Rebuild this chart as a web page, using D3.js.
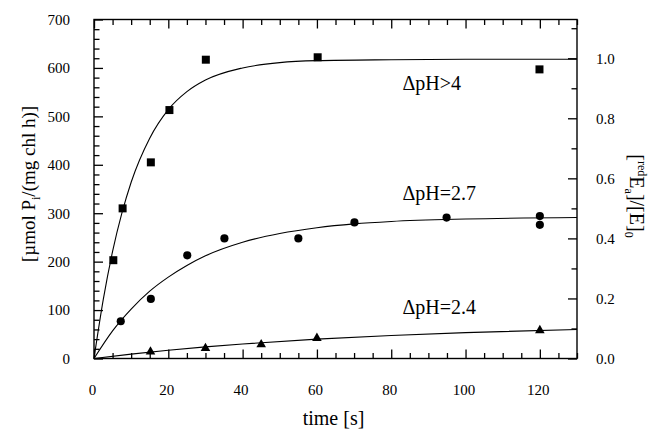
<!DOCTYPE html>
<html><head><meta charset="utf-8">
<script src="https://cdn.jsdelivr.net/npm/d3@7/dist/d3.min.js"></script>
<style>
body{margin:0;background:#fff;}
svg{display:block;}
svg text{font-family:'Liberation Serif','DejaVu Serif','Times New Roman',serif !important;fill:#000;}
</style></head><body>
<svg id="chart" width="658" height="429"></svg>
<script>
// ---- data ----
const sqTime  = [5.2, 7.7, 15.3, 20.3, 30.1, 60.2, 119.9];
const sqValue = [203, 310, 405, 513, 617, 622, 597];

const ciTime  = [7.2, 15.3, 25.1, 35.1, 55.0, 70.1, 94.9, 120, 120];
const ciValue = [77, 123, 213, 248, 248, 281, 291, 294, 276];

const trTime  = [15.2, 30, 45, 60, 120];
const trValue = [14, 21, 29, 42, 58];

// fitted curves as drawn
const fitT4   = [0, 2.5, 5, 7.5, 10, 15, 20, 25, 30, 40, 50, 60, 80, 100, 130];
const fitV4   = [0, 122, 221, 300, 364, 455, 514, 551, 575, 600, 611, 615, 617, 618, 618];
const fitT27  = [0, 5, 10, 15, 20, 25, 30, 40, 50, 60, 70, 80, 100, 130];
const fitV27  = [0, 57, 102, 139, 168, 192, 212, 240, 258, 270, 278, 283, 288, 291];
const fitT24  = [0, 10, 20, 30, 40, 60, 80, 100, 130];
const fitV24  = [0, 9, 17, 24, 30, 40, 47.5, 53.5, 60];

const xTicks      = [0, 20, 40, 60, 80, 100, 120];
const yLeftTicks  = [0, 100, 200, 300, 400, 500, 600, 700];
const yRightTicks = [0.0, 0.2, 0.4, 0.6, 0.8, 1.0];
const labels = [
  {text: "ΔpH>4",   t: 83, v: 555},
  {text: "ΔpH=2.7", t: 83, v: 327},
  {text: "ΔpH=2.4", t: 83, v: 92}
];

// ---- layout ----
const FONT = "'Liberation Serif','DejaVu Serif',serif";
const svg = d3.select("#chart");
const L = 94, R = 577, T = 19.5, B = 358.5;
const x  = d3.scaleLinear().domain([0, 130]).range([L, R]);
const y  = d3.scaleLinear().domain([0, 700]).range([B, T]);
const yR = d3.scaleLinear().domain([0, 700 / 620]).range([B, T]);

const majorLen = 9, minorLen = 5.5;
const axStroke = 1.4;

function tickMarks(g, scale, vals, len, orient) {
  let ax;
  if (orient === "bottom") ax = d3.axisTop(scale);
  else if (orient === "top") ax = d3.axisBottom(scale);
  else if (orient === "left") ax = d3.axisRight(scale);
  else ax = d3.axisLeft(scale);
  ax.tickValues(vals).tickSize(len).tickFormat("").tickSizeOuter(0);
  g.call(ax);
  g.select(".domain").remove();
  g.selectAll(".tick line").attr("stroke", "#000").attr("stroke-width", 1.3);
}

const minorX = d3.range(0, 131, 5).filter(d => d % 20 !== 0);
const minorY = d3.range(0, 701, 20).filter(d => d % 100 !== 0);
const minorR = [0.1, 0.3, 0.5, 0.7, 0.9, 1.1];

tickMarks(svg.append("g").attr("transform", `translate(0,${B})`), x, xTicks, majorLen, "bottom");
tickMarks(svg.append("g").attr("transform", `translate(0,${B})`), x, minorX, minorLen, "bottom");
tickMarks(svg.append("g").attr("transform", `translate(0,${T})`), x, xTicks, majorLen, "top");
tickMarks(svg.append("g").attr("transform", `translate(0,${T})`), x, minorX, minorLen, "top");
tickMarks(svg.append("g").attr("transform", `translate(${L},0)`), y, yLeftTicks, majorLen, "left");
tickMarks(svg.append("g").attr("transform", `translate(${L},0)`), y, minorY, minorLen, "left");
tickMarks(svg.append("g").attr("transform", `translate(${R},0)`), yR, yRightTicks, majorLen, "right");
tickMarks(svg.append("g").attr("transform", `translate(${R},0)`), yR, minorR, minorLen, "right");

// frame
svg.append("rect").attr("x", L).attr("y", T).attr("width", R - L).attr("height", B - T)
  .attr("fill", "none").attr("stroke", "#000").attr("stroke-width", axStroke);

// tick labels via axes (no tick lines)
const gxl = svg.append("g").attr("transform", `translate(-2,${B + 23})`)
  .call(d3.axisBottom(x).tickValues(xTicks).tickSize(0).tickFormat(d3.format("d")));
const gyl = svg.append("g").attr("transform", `translate(${L - 24},0)`)
  .call(d3.axisLeft(y).tickValues(yLeftTicks).tickSize(0).tickFormat(d3.format("d")));
const gyr = svg.append("g").attr("transform", `translate(${R + 19},0)`)
  .call(d3.axisRight(yR).tickValues(yRightTicks).tickSize(0).tickFormat(d3.format(".1f")));
[gxl, gyl, gyr].forEach(g => {
  g.attr("font-family", FONT);
  g.select(".domain").remove();
  g.selectAll("text").attr("font-family", FONT).attr("font-size", 15).attr("fill", "#000");
});
gyl.selectAll("text").attr("x", 0);
gyr.selectAll("text").attr("x", 0);

// curves
const line = d3.line().x(d => x(d[0])).y(d => y(d[1])).curve(d3.curveMonotoneX);
[[fitT4, fitV4], [fitT27, fitV27], [fitT24, fitV24]].forEach(([ts, vs]) => {
  svg.append("path").datum(ts.map((t, i) => [t, vs[i]]))
    .attr("d", line).attr("fill", "none").attr("stroke", "#000").attr("stroke-width", 1.1);
});

// markers
svg.append("g").selectAll("path").data(sqTime.map((t, i) => [t, sqValue[i]])).join("path")
  .attr("transform", d => `translate(${x(d[0])},${y(d[1])})`)
  .attr("d", d3.symbol(d3.symbolSquare, 64)).attr("fill", "#000");
svg.append("g").selectAll("path").data(ciTime.map((t, i) => [t, ciValue[i]])).join("path")
  .attr("transform", d => `translate(${x(d[0])},${y(d[1])})`)
  .attr("d", d3.symbol(d3.symbolCircle, 52)).attr("fill", "#000");
svg.append("g").selectAll("path").data(trTime.map((t, i) => [t, trValue[i]])).join("path")
  .attr("transform", d => `translate(${x(d[0])},${y(d[1])})`)
  .attr("d", d3.symbol(d3.symbolTriangle, 40)).attr("fill", "#000");

// series labels
svg.append("g").selectAll("text").data(labels).join("text")
  .attr("x", d => x(d.t)).attr("y", d => y(d.v))
  .attr("font-family", FONT).attr("font-size", 20).text(d => d.text);

// axis titles
svg.append("text").attr("x", (L + R) / 2 - 2).attr("y", 425)
  .attr("font-family", FONT).attr("text-anchor", "middle").attr("font-size", 20).text("time [s]");

const lt = svg.append("text").attr("transform", "translate(35,184) rotate(-90)")
  .attr("font-family", FONT).attr("text-anchor", "middle").attr("font-size", 19);
lt.append("tspan").text("[µmol P");
lt.append("tspan").attr("font-size", 12).attr("dy", 5).text("i");
lt.append("tspan").attr("dy", -5).text("/(mg chl h)]");

const rt = svg.append("text").attr("transform", "translate(630,196) rotate(90)")
  .attr("font-family", FONT).attr("text-anchor", "middle").attr("font-size", 20);
rt.append("tspan").text("[");
rt.append("tspan").attr("font-size", 12).attr("dy", -8).text("red");
rt.append("tspan").attr("dy", 8).text("E");
rt.append("tspan").attr("font-size", 12).attr("dy", 5).text("a");
rt.append("tspan").attr("dy", -5).text("]/[E]");
rt.append("tspan").attr("font-size", 12).attr("dy", 5).text("0");
</script>
</body></html>
